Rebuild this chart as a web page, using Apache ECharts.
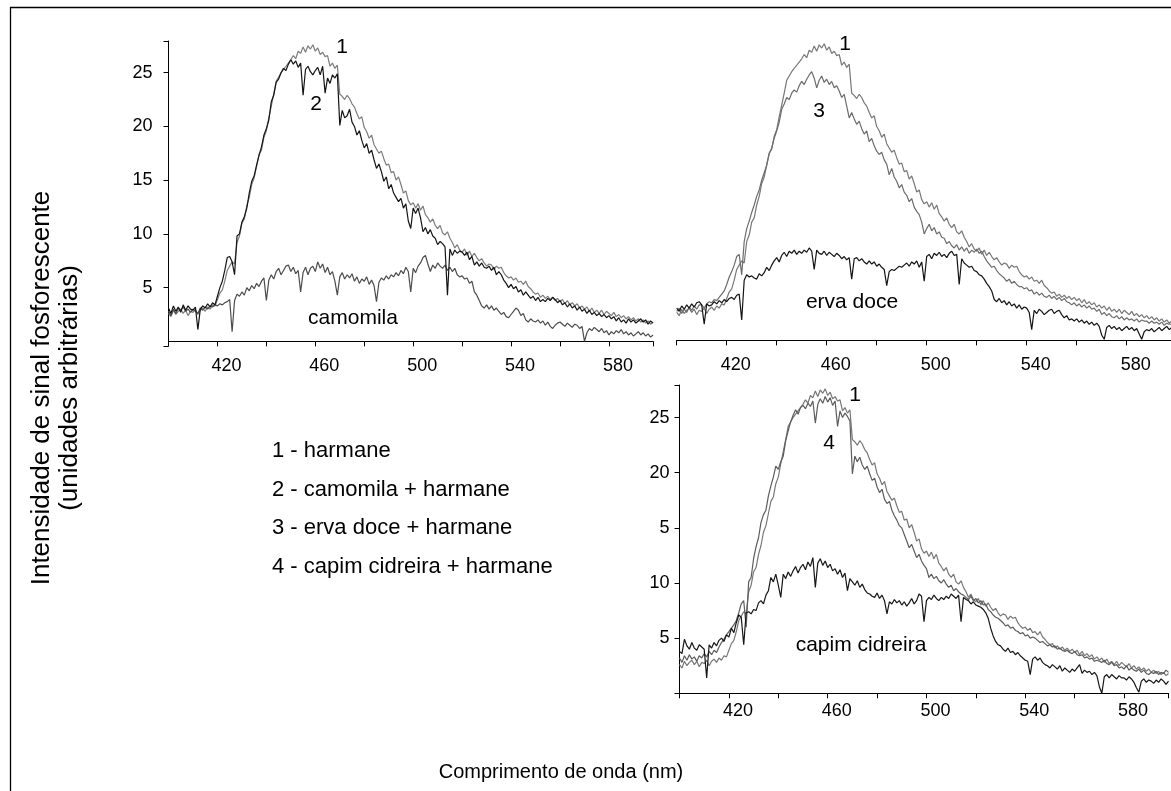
<!DOCTYPE html>
<html>
<head>
<meta charset="utf-8">
<script src="https://cdn.jsdelivr.net/npm/echarts@6/dist/echarts.min.js"></script>
<style>
  html, body { margin: 0; padding: 0; background: #fff; }
  #chart { width: 1171px; height: 791px; }
</style>
</head>
<body>
<div id="chart"></div>
<script>
// Phosphorescence spectra, 400–598 nm in 1 nm steps
const WL_START = 400;
const WL_COUNT = 199;

// 1 - harmane (same spectrum shown in all three panels)
const harmane = [
  2.6, 2.3, 2.9, 2.5, 2.8, 3.0, 2.6, 2.9, 2.4, 2.8,
  2.7, 3.0, 2.5, 2.9, 3.1, 2.8, 3.2, 3.0, 3.4, 3.3,
  3.9, 4.5, 4.8, 5.6, 6.6, 7.0, 7.4, 7.2, 9.2, 9.8,
  11.0, 11.4, 12.6, 13.4, 14.6, 15.2, 16.3, 17.4, 17.8, 19.0,
  19.6, 20.8, 21.9, 23.0, 24.2, 24.6, 25.0, 25.3, 25.6, 25.9,
  26.2, 26.6, 26.3, 27.0, 26.8, 27.4, 26.9, 27.5, 27.2, 27.6,
  27.0, 27.3, 26.7, 26.9, 26.5, 26.6, 25.6, 25.9, 25.4, 25.7,
  23.0, 22.8, 22.5, 22.9, 22.6, 22.1, 21.8, 21.2, 20.7, 20.9,
  19.9, 19.5, 18.9, 19.2, 18.3, 17.9, 17.5, 17.7, 17.0, 16.4,
  16.5, 15.7, 15.8, 15.0, 15.3, 14.6, 13.8, 14.0, 13.1, 12.7,
  12.9, 12.4, 12.8, 12.2, 12.6, 11.8, 11.5, 11.1, 11.4, 10.8,
  10.5, 10.8, 10.1, 9.9, 10.2, 9.6, 9.2, 8.7, 9.0, 8.5,
  8.3, 8.6, 8.0, 8.4, 7.9, 8.2, 7.8, 7.5, 7.7, 7.3,
  7.0, 7.2, 7.1, 6.7, 7.0, 6.8, 6.9, 6.4, 6.1, 5.9,
  6.0, 5.7, 5.9, 5.5, 5.6, 5.3, 5.6, 5.1, 4.9, 4.6,
  4.4, 4.5, 4.1, 4.3, 4.0, 4.2, 3.9, 4.1, 3.8, 4.0,
  3.7, 3.9, 3.5, 3.8, 3.4, 3.6, 3.3, 3.5, 3.1, 3.3,
  3.0, 3.2, 2.8, 3.1, 2.7, 2.9, 2.6, 2.9, 2.5, 2.8,
  2.6, 2.4, 2.7, 2.3, 2.5, 2.2, 2.4, 2.1, 2.3, 2.0,
  2.2, 1.9, 2.1, 1.8, 2.0, 1.7, 1.9, 1.6, 1.8
];

// 2 - camomila + harmane
const camomilaHarmane = [
  3.1, 2.6, 3.3, 2.8, 3.2, 2.7, 3.4, 2.9, 3.3, 3.0,
  2.9, 3.2, 1.1, 3.0, 3.3, 3.1, 3.5, 3.2, 3.6, 3.4,
  4.2, 5.0, 5.6, 6.6, 7.8, 7.9, 7.4, 6.2, 9.8, 10.0,
  11.1, 11.6, 12.4, 13.8, 14.9, 15.4, 16.4, 17.3, 18.1, 19.2,
  19.8, 20.6, 22.3, 22.9, 24.1, 24.4, 25.0, 25.4, 25.2, 25.8,
  26.2, 25.8, 26.1, 25.5, 25.9, 22.9, 25.3, 25.6, 25.1, 24.8,
  25.2, 25.5, 24.8, 25.6, 23.1, 24.5, 24.0, 24.8, 24.5, 24.9,
  20.1, 21.5, 20.8, 21.0, 21.6, 20.4, 20.0, 19.2, 19.6, 18.7,
  18.0, 18.4, 17.5, 17.8, 16.9, 16.1, 16.5, 15.8, 14.9, 15.3,
  14.2, 14.6, 13.8, 13.4, 13.0, 13.3, 12.4, 12.8, 11.2, 10.5,
  12.4, 11.9, 12.4, 11.5, 10.2, 10.6, 10.0, 10.4, 9.8, 9.6,
  9.0, 9.3, 9.1, 8.8, 4.3, 8.6, 8.0, 8.5, 8.2, 8.4,
  8.3, 8.0, 8.3, 7.6, 7.9, 7.1, 7.4, 7.0, 7.3, 6.9,
  6.8, 7.0, 6.6, 6.9, 6.2, 6.5, 6.2, 5.7, 5.4, 5.0,
  5.3, 4.9, 5.1, 4.6, 4.8, 4.3, 4.6, 4.3, 4.0, 4.2,
  3.8, 4.1, 3.7, 3.9, 3.7, 4.0, 3.8, 4.1, 3.9, 3.6,
  3.8, 3.4, 3.6, 3.2, 3.5, 3.1, 3.3, 2.9, 3.2, 2.8,
  3.0, 2.6, 2.9, 2.5, 2.7, 2.4, 2.6, 2.3, 2.5, 2.2,
  2.4, 2.1, 2.3, 1.9, 2.2, 1.8, 2.0, 1.7, 2.1, 1.8,
  2.0, 1.7, 1.9, 2.1, 1.8, 2.0, 1.6, 1.9, 1.7
];

// camomila alone
const camomila = [
  2.8, 2.4, 3.0, 2.6, 3.1, 2.9, 3.2, 2.8, 3.0, 2.7,
  3.0, 2.8, 2.6, 3.1, 2.9, 3.2, 3.0, 3.3, 3.2, 3.4,
  3.3, 3.5, 3.4, 3.6, 3.7, 3.9, 0.9, 3.8, 4.4, 4.2,
  4.6, 4.3, 5.0, 4.7, 5.2, 4.9, 5.4, 5.1, 5.6, 5.9,
  3.8, 5.7, 6.2, 5.8, 6.5, 6.8, 6.2, 6.6, 7.0, 7.1,
  6.5, 6.9, 6.3, 6.6, 4.6, 6.4, 6.9, 6.2, 6.8, 7.0,
  6.5, 7.4, 6.8, 7.2, 6.4, 6.9, 6.2, 6.5, 5.6, 4.3,
  6.0, 6.4, 5.8, 6.2, 5.9, 6.3, 5.6, 6.0, 5.4, 5.8,
  5.6, 6.0, 5.3, 5.7, 5.2, 3.7, 5.5, 5.9, 5.7, 6.1,
  5.8, 6.2, 6.0, 6.4, 6.1, 6.6, 6.3, 6.9, 6.5, 4.6,
  6.8, 6.4, 7.0, 7.3, 7.8, 8.0, 7.2, 6.5, 7.1, 6.8,
  7.3, 7.0, 6.8, 7.1, 6.6, 6.9, 6.5, 6.8, 6.2, 6.0,
  6.1, 5.8, 5.9, 5.4, 5.6, 4.6, 4.3, 3.8, 3.3, 3.1,
  3.4, 3.0, 3.3, 2.9, 3.1, 2.8, 2.5, 2.7, 2.3, 2.2,
  2.5, 2.8, 3.1, 2.9, 2.4, 2.6, 2.0, 1.8, 2.1, 1.9,
  1.8, 2.0, 1.7, 1.9, 1.5, 1.8, 1.4, 1.2, 1.5, 1.7,
  1.8, 1.6, 1.4, 1.7, 1.5, 1.3, 1.6, 1.5, 1.2, 1.4,
  0.0, 0.8, 1.2, 1.0, 1.3, 1.1, 0.9, 1.2, 0.8, 1.0,
  0.6, 0.9, 0.7, 1.0, 0.8, 1.1, 0.7, 0.9, 0.6, 0.8,
  0.5, 0.7, 0.9, 0.6, 0.8, 0.5, 0.7, 0.4, 0.6
];

// 3 - erva doce + harmane
const ervaDoceHarmane = [
  2.7, 3.0, 2.5, 2.9, 2.6, 3.1, 2.8, 3.2, 2.9, 3.3,
  3.3, 3.0, 3.4, 3.6, 3.5, 3.8, 3.7, 4.0, 4.3, 4.6,
  5.2, 5.9, 6.4, 7.0, 7.8, 8.0, 6.1, 9.2, 10.4, 11.1,
  11.9, 12.6, 13.4, 14.0, 14.9, 15.6, 16.3, 17.4, 17.9, 18.8,
  19.5, 20.3, 21.5, 22.0, 22.6, 22.4, 23.0, 23.3, 23.1, 23.7,
  24.1, 23.8, 24.3, 24.7, 25.0, 24.4, 23.5, 24.2, 24.6, 24.0,
  24.3, 23.8, 24.1, 23.5, 23.7, 23.2, 22.6, 22.9, 21.8, 20.7,
  21.2, 20.6, 20.1, 20.4, 19.7, 19.2, 19.5, 18.5, 18.8, 18.1,
  17.6, 17.3, 17.5, 16.8, 16.4, 15.4, 16.0, 15.2, 14.8, 14.2,
  14.5, 13.8, 13.5, 12.9, 13.2, 12.4, 12.0, 11.7, 11.0, 9.9,
  10.4, 10.8, 10.2, 10.5, 9.9, 10.1, 9.6, 9.5, 9.0, 9.2,
  8.8, 8.6, 8.9, 8.4, 8.7, 8.3, 8.6, 8.1, 8.4, 8.2,
  8.5, 8.1, 8.3, 7.8, 7.4, 7.1, 6.8, 6.9, 6.5, 6.2,
  6.0, 5.8, 5.5, 5.7, 5.3, 5.5, 5.2, 5.0, 5.0, 4.8,
  4.9, 4.6, 4.7, 4.3, 4.5, 4.2, 4.4, 4.1, 4.0, 4.2,
  3.9, 4.1, 3.8, 4.0, 3.7, 3.9, 3.6, 3.5, 3.3, 3.5,
  3.2, 3.4, 3.1, 3.3, 3.0, 3.2, 2.9, 3.0, 2.7, 2.9,
  2.4, 2.6, 2.3, 2.5, 2.2, 2.1, 2.3, 2.0, 2.2, 1.9,
  2.1, 1.9, 2.0, 1.8, 2.0, 1.7, 1.9, 1.8, 1.8, 1.6,
  1.8, 1.6, 1.7, 1.5, 1.7, 1.4, 1.6, 1.5, 1.5
];

// erva doce alone
const ervaDoce = [
  3.0, 2.7, 3.2, 2.9, 3.3, 3.0, 3.4, 3.1, 3.5, 3.6,
  3.3, 1.5, 3.4, 3.2, 3.3, 3.6, 3.4, 3.7, 3.5, 3.8,
  3.6, 3.9, 4.0, 3.8, 4.2, 4.3, 1.9, 5.6, 6.1, 5.9,
  6.0, 5.8, 5.7, 6.2, 6.0, 6.3, 6.8, 6.5, 7.0, 7.4,
  7.7, 7.3, 7.9, 8.2, 7.8, 8.3, 8.1, 8.4, 8.0, 8.3,
  8.1, 8.4, 8.2, 8.6, 8.3, 6.6, 8.4, 8.1, 8.0, 8.3,
  7.9, 8.2, 8.0, 7.8, 8.1, 7.9, 7.6, 7.8, 7.5, 7.7,
  5.7, 7.6, 7.7, 7.4, 7.6, 7.3, 7.1, 7.4, 7.1, 7.3,
  6.9, 7.1, 6.8, 6.6, 5.1, 6.4, 6.6, 6.5, 6.7, 6.9,
  6.8, 7.0, 7.2, 6.9, 7.3, 7.1, 7.4, 6.8, 7.3, 5.5,
  7.8, 8.0, 7.6, 8.1, 7.9, 8.2, 7.8, 8.0, 7.7, 8.1,
  8.3, 7.9, 8.0, 5.2, 7.6, 7.2, 7.0, 6.8, 6.9, 6.5,
  6.4, 6.1, 6.0, 5.7, 5.3, 5.0, 4.6, 3.8, 3.6, 3.9,
  3.5, 3.7, 3.3, 3.6, 3.2, 3.4, 3.0, 3.3, 2.9, 3.1,
  3.0, 2.6, 1.0, 2.8, 2.5, 2.9, 2.7, 2.4, 2.6, 2.8,
  2.9, 2.5, 2.7, 2.8, 2.4, 2.1, 2.3, 1.9, 2.0, 1.8,
  2.0, 1.7, 1.9, 1.6, 1.8, 1.5, 1.7, 1.4, 1.6, 1.3,
  0.5, 0.1, 1.2, 1.4, 1.1, 1.3, 1.0, 1.2, 0.9, 1.1,
  1.3, 1.0, 1.2, 0.9, 1.1, 0.6, 0.1, 0.8, 1.0, 0.9,
  1.1, 0.8, 1.0, 1.2, 0.9, 1.1, 1.3, 1.0, 1.2
];

// 4 - capim cidreira + harmane
const capimHarmane = [
  3.2, 2.8, 3.4, 3.0, 3.5, 3.1, 3.3, 2.9, 3.4, 3.2,
  3.6, 3.3, 3.8, 3.5, 3.9, 3.7, 4.2, 4.6, 4.9, 5.3,
  5.6, 5.9, 6.2, 6.6, 7.3, 8.1, 8.4, 6.0, 10.1, 10.5,
  12.2, 13.3, 14.1, 15.5, 16.2, 16.6, 17.9, 18.8, 19.6, 20.6,
  20.3, 21.0, 21.5, 22.9, 23.8, 24.6, 25.2, 25.7, 25.3, 25.9,
  26.1, 25.8, 26.3, 26.0, 26.5, 24.5, 26.2, 26.7, 26.3, 26.9,
  26.4, 26.8, 26.1, 26.5, 24.2, 25.6, 25.0, 25.4, 25.1, 24.7,
  19.9, 21.5, 21.0, 21.4, 20.7, 20.3, 20.6, 19.9, 19.3, 19.5,
  18.7, 18.2, 18.5, 17.6, 17.2, 17.4, 16.6, 16.1, 15.7, 15.2,
  15.0, 14.4, 13.8, 13.2, 13.5, 12.9, 12.3, 12.6, 12.0, 11.6,
  11.3, 10.5, 10.8, 10.4, 10.6, 10.2, 10.0, 10.3, 9.9, 9.6,
  9.8, 9.3, 9.5, 9.2, 9.0, 8.9, 8.7, 8.5, 8.8, 8.4,
  8.6, 8.2, 8.4, 8.0, 8.1, 7.6, 7.4, 7.1, 6.9, 6.8,
  6.6, 6.4, 6.1, 6.2, 5.9, 6.0, 5.7, 5.6, 5.4, 5.5,
  5.2, 5.3, 5.0, 5.1, 5.0, 4.8, 4.6, 4.7, 4.5, 4.3,
  4.4, 4.2, 4.3, 4.0, 4.1, 3.9, 3.8, 3.9, 3.7, 3.6,
  3.8, 3.5, 3.4, 3.5, 3.2, 3.3, 3.1, 3.2, 2.9, 3.0,
  2.9, 2.8, 3.0, 2.7, 2.6, 2.8, 2.5, 2.6, 2.3, 2.4,
  2.2, 2.5, 2.1, 2.3, 2.1, 2.0, 2.2, 1.9, 2.1, 1.8,
  1.7, 1.9, 1.8, 2.0, 1.7, 1.9, 1.8, 2.1, 1.9
];

// capim cidreira alone
const capimCidreira = [
  3.8, 3.6, 4.9, 4.3, 4.0, 4.6, 4.1, 3.9, 4.4, 4.2,
  4.0, 1.4, 4.4, 4.1, 4.6, 4.3, 4.8, 5.0, 4.7, 5.3,
  5.1, 5.9, 5.5, 6.4, 7.1, 6.9, 4.4, 7.3, 7.4, 7.2,
  7.6, 7.5, 8.2, 8.4, 8.1, 8.9, 9.3, 10.5, 10.1, 10.8,
  9.8, 8.7, 10.8, 10.4, 11.0, 10.6, 11.1, 11.5, 10.9, 11.4,
  11.7, 11.2, 11.9, 11.5, 12.3, 9.6, 11.8, 12.2, 11.6, 12.0,
  11.4, 11.7, 11.1, 11.3, 10.8, 11.2, 10.5, 10.9, 9.3, 10.4,
  10.1, 9.8, 10.2, 9.6, 9.9, 9.4, 9.1, 9.0, 8.8, 8.7,
  9.1, 8.6, 8.9, 8.4, 7.2, 8.3, 8.1, 8.5, 8.2, 8.4,
  8.0, 8.3, 7.9, 8.2, 8.6, 8.1, 8.4, 9.0, 8.8, 6.5,
  8.4, 8.7, 8.5, 8.9, 8.6, 8.4, 8.7, 8.5, 8.8, 8.6,
  9.0, 8.8, 8.6, 8.9, 6.5, 8.7, 8.5, 8.4, 8.1, 8.3,
  8.0, 7.9, 7.8, 7.6, 7.3, 6.8, 5.9, 5.2, 4.7, 4.4,
  4.3, 4.0, 3.8, 4.1, 3.7, 3.8, 3.5, 3.7, 3.4, 3.2,
  3.0, 2.9, 1.7, 3.1, 3.3, 3.0, 3.2, 2.8, 2.6, 2.5,
  2.3, 2.6, 2.4, 2.2, 2.5, 2.0, 2.3, 2.1, 1.9, 2.2,
  2.0, 2.3, 2.6, 1.8, 2.1, 1.9, 2.0, 1.7, 1.9, 1.6,
  0.6, 0.0, 1.5, 1.7, 1.4, 1.7, 1.5, 1.3, 1.6, 1.4,
  1.4, 1.2, 1.5, 1.3, 1.0, 0.5, 0.1, 1.1, 1.3, 1.0,
  1.2, 1.1, 0.9, 1.2, 1.0, 1.3, 1.1, 0.8, 1.1
];

// Axis ticks and labels
const xTickValues = [400, 420, 440, 460, 480, 500, 520, 540, 560, 580, 598];
const xLabelValues = [420, 460, 500, 540, 580];
const yTickValues = [5, 10, 15, 20, 25];
const yLabelsTop = ['5', '10', '15', '20', '25'];
const yLabelsBottom = ['5', '10', '5', '20', '25'];

const legendLines = [
  '1 - harmane',
  '2 - camomila + harmane',
  '3 - erva doce + harmane',
  '4 - capim cidreira + harmane'
];

const FONT = '"Liberation Sans", Arial, Helvetica, sans-serif';

const wavelengths = [];
for (let i = 0; i < WL_COUNT; i++) wavelengths.push(WL_START + i);
const pairs = vals => vals.map((v, i) => [wavelengths[i], v]);

function xAxisFor(gridIndex, margin) {
  return {
    type: 'value', gridIndex, min: 400, max: 598,
    axisLine: { show: true, lineStyle: { color: '#000', width: 1 } },
    axisTick: { show: true, length: 5, lineStyle: { color: '#000' }, customValues: xTickValues },
    axisLabel: {
      customValues: xLabelValues, color: '#000', fontFamily: FONT, fontSize: 18,
      margin, padding: [0, 0, 0, 18]
    },
    splitLine: { show: false }
  };
}

function yAxisFor(gridIndex, min, labels, margin, visible) {
  return {
    type: 'value', gridIndex, min, max: 27.95, show: visible,
    axisLine: { show: true, lineStyle: { color: '#000', width: 1 } },
    axisTick: { show: true, length: 5, lineStyle: { color: '#000' }, customValues: [min].concat(yTickValues, [27.95]) },
    axisLabel: {
      customValues: yTickValues, color: '#000', fontFamily: FONT, fontSize: 18, margin,
      formatter: v => labels[yTickValues.indexOf(v)] ?? ''
    },
    splitLine: { show: false }
  };
}

function line(name, vals, idx, color) {
  return {
    name, type: 'line', xAxisIndex: idx, yAxisIndex: idx, data: pairs(vals),
    showSymbol: false, symbol: 'none', silent: true, animation: false,
    lineStyle: { color, width: 1.2 }
  };
}

function txt(text, x, y, size, extra) {
  return Object.assign({
    type: 'text', x, y, silent: true,
    style: { text, fontFamily: FONT, fontSize: size, fill: '#000', align: 'center', verticalAlign: 'middle' }
  }, extra || {});
}

const graphics = [
  { type: 'rect', shape: { x: 10.5, y: 7.5, width: 1300, height: 900 }, silent: true,
    style: { fill: 'none', stroke: '#000', lineWidth: 1.3 } },
  txt('1', 342, 47, 21), txt('2', 316, 104, 21), txt('camomila', 353, 318, 21),
  txt('1', 845, 44, 21), txt('3', 819, 111, 21), txt('erva doce', 852, 302, 21),
  txt('1', 855, 395, 21), txt('4', 829, 443, 21), txt('capim cidreira', 861, 645, 21),
  txt('Comprimento de onda (nm)', 561, 772, 20),
  txt('Intensidade de sinal fosforescente', 42, 388, 26, { rotation: Math.PI / 2 }),
  txt('(unidades arbitrárias)', 70, 388, 26, { rotation: Math.PI / 2 })
];
const legendY = [451, 489.5, 528, 567];
legendLines.forEach((t, i) => {
  graphics.push({
    type: 'text', x: 272, y: legendY[i], silent: true,
    style: { text: t, fontFamily: FONT, fontSize: 22, fill: '#000', align: 'left', verticalAlign: 'middle' }
  });
});

const chart = echarts.init(document.getElementById('chart'), null, { renderer: 'canvas' });
chart.setOption({
  backgroundColor: '#fff',
  animation: false,
  grid: [
    { left: 168.5, top: 41, width: 484.5, height: 305, outerBoundsMode: 'none', containLabel: false },
    { left: 676.7, top: 40, width: 495, height: 305, outerBoundsMode: 'none', containLabel: false },
    { left: 679.5, top: 385, width: 489, height: 308.3, outerBoundsMode: 'none', containLabel: false }
  ],
  xAxis: [xAxisFor(0, 11), xAxisFor(1, 11), xAxisFor(2, 9)],
  yAxis: [
    yAxisFor(0, -0.43, yLabelsTop, 16, true),
    yAxisFor(1, -0.43, yLabelsTop, 16, false),
    yAxisFor(2, 0, yLabelsBottom, 10, true)
  ],
  series: [
    line('1 - harmane', harmane, 0, '#7c7c7c'),
    line('camomila', camomila, 0, '#4c4c4c'),
    line('2 - camomila + harmane', camomilaHarmane, 0, '#141414'),
    line('1 - harmane', harmane, 1, '#777777'),
    line('3 - erva doce + harmane', ervaDoceHarmane, 1, '#6c6c6c'),
    line('erva doce', ervaDoce, 1, '#141414'),
    line('1 - harmane', harmane, 2, '#777777'),
    line('4 - capim cidreira + harmane', capimHarmane, 2, '#5c5c5c'),
    line('capim cidreira', capimCidreira, 2, '#161616')
  ],
  graphic: graphics
});
</script>
</body>
</html>
